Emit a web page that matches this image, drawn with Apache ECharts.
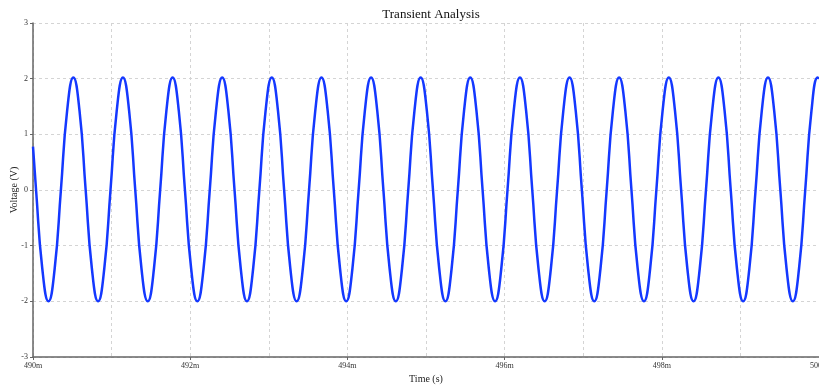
<!DOCTYPE html>
<html>
<head>
<meta charset="utf-8">
<title>Transient Analysis</title>
<script src="https://cdn.jsdelivr.net/npm/echarts@6/dist/echarts.min.js"></script>
<style>
  html, body { margin: 0; padding: 0; background: #fff; }
  #chart { width: 819px; height: 385px; }
</style>
</head>
<body>
<div id="chart"></div>
<script>
// time (ms) and voltage (V): troughs, crossings, peaks and the points between
const timeMs = [
  490.000, 490.039, 490.118,
  490.197, 490.276, 490.355, 490.434, 490.513, 490.592, 490.670, 490.749,
  490.828, 490.907, 490.986, 491.065, 491.144, 491.223, 491.301, 491.380,
  491.460, 491.539, 491.618, 491.697, 491.776, 491.855, 491.933, 492.012,
  492.091, 492.170, 492.249, 492.328, 492.407, 492.486, 492.564, 492.643,
  492.722, 492.801, 492.880, 492.959, 493.038, 493.117, 493.195, 493.274,
  493.354, 493.433, 493.512, 493.591, 493.670, 493.749, 493.827, 493.906,
  493.985, 494.064, 494.143, 494.222, 494.301, 494.380, 494.458, 494.537,
  494.616, 494.695, 494.774, 494.853, 494.932, 495.011, 495.089, 495.168,
  495.247, 495.326, 495.405, 495.484, 495.563, 495.642, 495.720, 495.799,
  495.879, 495.958, 496.037, 496.116, 496.195, 496.274, 496.352, 496.431,
  496.510, 496.589, 496.668, 496.747, 496.826, 496.905, 496.983, 497.062,
  497.141, 497.220, 497.299, 497.378, 497.457, 497.536, 497.614, 497.693,
  497.773, 497.852, 497.931, 498.010, 498.089, 498.168, 498.246, 498.325,
  498.404, 498.483, 498.562, 498.641, 498.720, 498.799, 498.877, 498.956,
  499.035, 499.114, 499.193, 499.272, 499.351, 499.430, 499.508, 499.587,
  499.667, 499.746, 499.825, 499.904, 499.983, 500.000
];
const voltage = [
  0.78, 0.00, -1.41,
  -2.00, -1.41, 0.00, 1.42, 2.02, 1.42, 0.00, -1.41,
  -2.00, -1.41, 0.00, 1.42, 2.02, 1.42, 0.00, -1.41,
  -2.00, -1.41, 0.00, 1.42, 2.02, 1.42, 0.00, -1.41,
  -2.00, -1.41, 0.00, 1.42, 2.02, 1.42, 0.00, -1.41,
  -2.00, -1.41, 0.00, 1.42, 2.02, 1.42, 0.00, -1.41,
  -2.00, -1.41, 0.00, 1.42, 2.02, 1.42, 0.00, -1.41,
  -2.00, -1.41, 0.00, 1.42, 2.02, 1.42, 0.00, -1.41,
  -2.00, -1.41, 0.00, 1.42, 2.02, 1.42, 0.00, -1.41,
  -2.00, -1.41, 0.00, 1.42, 2.02, 1.42, 0.00, -1.41,
  -2.00, -1.41, 0.00, 1.42, 2.02, 1.42, 0.00, -1.41,
  -2.00, -1.41, 0.00, 1.42, 2.02, 1.42, 0.00, -1.41,
  -2.00, -1.41, 0.00, 1.42, 2.02, 1.42, 0.00, -1.41,
  -2.00, -1.41, 0.00, 1.42, 2.02, 1.42, 0.00, -1.41,
  -2.00, -1.41, 0.00, 1.42, 2.02, 1.42, 0.00, -1.41,
  -2.00, -1.41, 0.00, 1.42, 2.02, 1.42, 0.00, -1.41,
  -2.00, -1.41, 0.00, 1.42, 2.02, 2.00
];

const serif = "'Liberation Serif', 'DejaVu Serif', serif";
const gridDash = { color: '#d4d4d4', type: [3, 3], width: 1 };
const chart = echarts.init(document.getElementById('chart'));

chart.setOption({
  animation: false,
  backgroundColor: '#ffffff',
  title: {
    text: 'Transient Analysis',
    left: 426,
    textAlign: 'center',
    top: 3,
    textStyle: { fontFamily: serif, fontSize: 13, fontWeight: 'normal', color: '#111' }
  },
  grid: { left: 33, right: 0, top: 23, bottom: 28, outerBoundsMode: 'none' },
  xAxis: {
    type: 'value',
    min: 490,
    max: 500,
    interval: 2,
    name: 'Time (s)',
    nameLocation: 'middle',
    nameGap: 17,
    nameMoveOverlap: false,
    nameTextStyle: { fontFamily: serif, fontSize: 10, color: '#222' },
    axisLine: { show: true, onZero: false, lineStyle: { color: '#666', width: 1.5 } },
    axisTick: { show: true, length: 3, lineStyle: { color: '#666' } },
    axisLabel: {
      formatter: v => v + 'm',
      fontFamily: serif, fontSize: 8, color: '#333', margin: 5
    },
    splitLine: { show: true, lineStyle: gridDash },
    minorTick: { show: false, splitNumber: 2 },
    minorSplitLine: { show: true, lineStyle: gridDash }
  },
  yAxis: {
    type: 'value',
    min: -3,
    max: 3,
    interval: 1,
    name: 'Voltage (V)',
    nameLocation: 'middle',
    nameGap: 14,
    nameMoveOverlap: false,
    nameTextStyle: { fontFamily: serif, fontSize: 10, color: '#222' },
    axisLine: { show: true, onZero: false, lineStyle: { color: '#666', width: 1.5 } },
    axisTick: { show: true, length: 3, lineStyle: { color: '#666' } },
    axisLabel: { fontFamily: serif, fontSize: 8, color: '#333', margin: 5 },
    splitLine: { show: true, lineStyle: gridDash }
  },
  series: [{
    type: 'line',
    data: timeMs.map((t, i) => [t, voltage[i]]),
    showSymbol: false,
    smooth: 0.5,
    lineStyle: { color: '#1438ff', width: 2.5 }
  }]
});
</script>
</body>
</html>
